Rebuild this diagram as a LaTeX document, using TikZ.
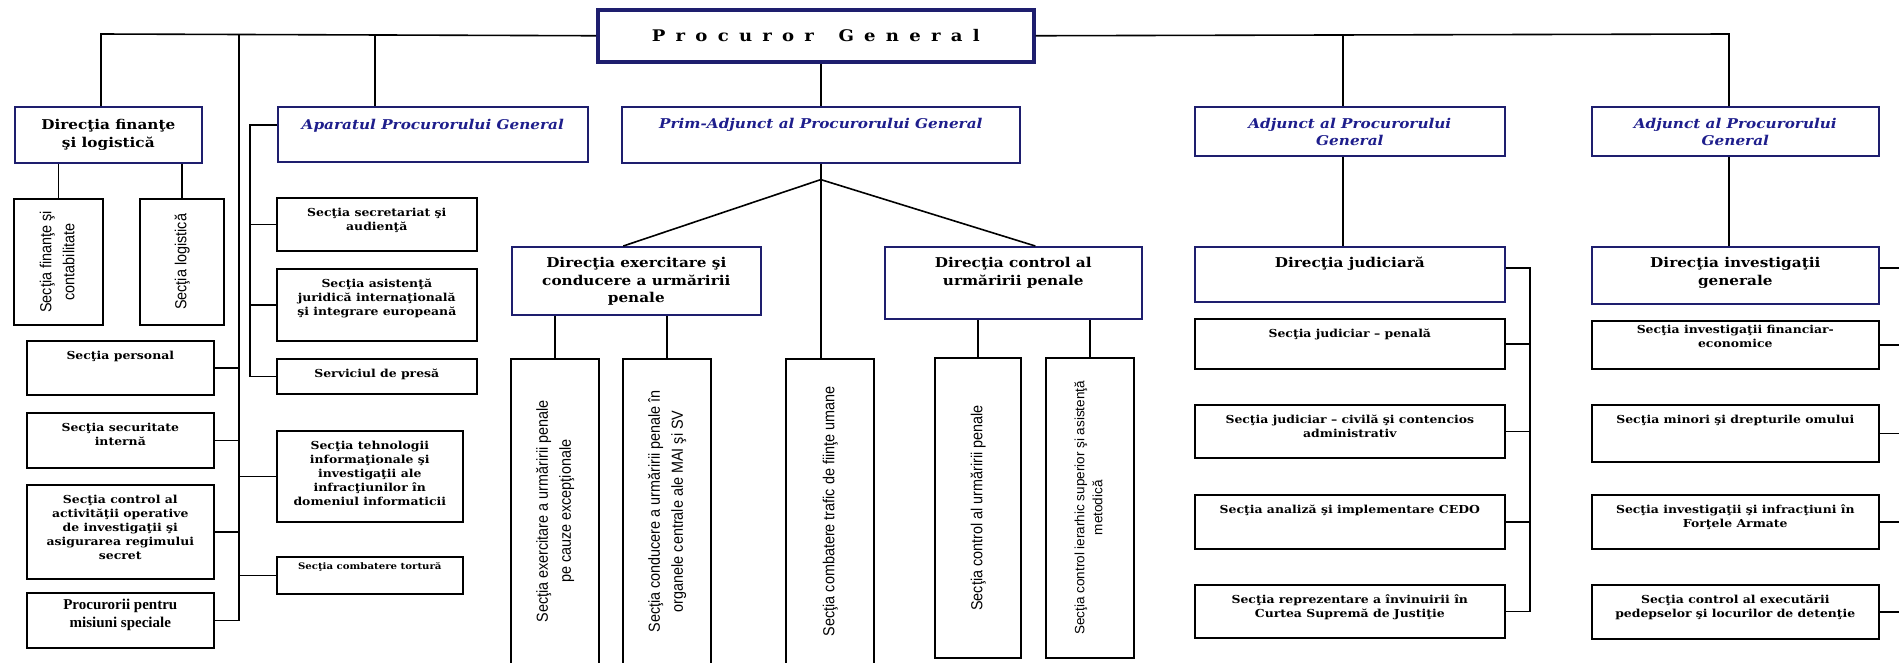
\documentclass[tikz,border=0pt]{standalone}
\usepackage{fontspec}
\usepackage{graphicx}
\setmainfont{DejaVu Serif}[FakeStretch=1.13]
\newfontfamily\narrowsans{Liberation Sans}[FakeStretch=0.9]
\newfontfamily\plainsans{Liberation Sans}
\newfontfamily\timesfont{Liberation Serif}
\usetikzlibrary{positioning, calc}

\definecolor{navy}{RGB}{30,30,110}
\definecolor{hdblue}{RGB}{30,30,140}

\tikzstyle{conn} = [line width=1.6pt, black]
\tikzstyle{hdbox} = [draw=navy, line width=1.6pt, inner sep=0pt, anchor=north west, text=hdblue, font=\fontsize{13.5}{17}\selectfont\bfseries\itshape]
\tikzstyle{dirbox} = [draw=navy, line width=1.6pt, inner sep=0pt, anchor=north west, font=\fontsize{13.5}{17.5}\selectfont\bfseries]
\tikzstyle{secbox} = [draw=black, line width=1.6pt, inner sep=0pt, anchor=north west, font=\fontsize{11}{14}\selectfont\bfseries]
\tikzstyle{vertbox} = [draw=black, line width=1.6pt, inner sep=0pt, anchor=north west, font=\fontsize{16}{23}\selectfont\narrowsans]

% text sitting at the top of a box: [first baseline]{width}{height}{text}
\newcommand{\topbox}[4][19pt]{\parbox[c][#3pt][t]{#2pt}{\centering\rule{0pt}{#1}#4}}
% text turned to read upwards
\newcommand{\sidetext}[1]{\rotatebox{90}{\begin{tabular}{@{}c@{}}#1\end{tabular}}}

\begin{document}
\begin{tikzpicture}[x=1pt, y=-1pt]
\useasboundingbox (0,0) rectangle (1899,662);

  % top
  \node[draw=navy, line width=3.5pt, minimum width=436pt, minimum height=52pt, inner sep=0pt, anchor=north west,
        font=\fontsize{16}{20}\selectfont\bfseries] (pg) at (596,8)
        {\addfontfeature{LetterSpace=64}Procuror\hspace{8pt} General};

  % second row
  \node[dirbox] (dirfin) at (14,106) {\topbox[23pt]{187}{56}{Direcţia finanţe\\şi logistică}};
  \node[hdbox] (aparat) at (277,106) {\topbox[23pt]{310}{55}{Aparatul Procurorului General}};
  \node[hdbox] (primadj) at (621,106) {\topbox[22pt]{398}{56}{Prim-Adjunct al Procurorului General}};
  \node[hdbox] (adj1) at (1194,106) {\topbox[22pt]{310}{49}{Adjunct al Procurorului\\General}};
  \node[hdbox] (adj2) at (1591,106) {\topbox[22pt]{287}{49}{Adjunct al Procurorului\\General}};

  % left column
  \node[vertbox, minimum width=89pt, minimum height=126pt] (finsec) at (13,198) {\sidetext{Secţia finanţe şi\\contabilitate}};
  \node[vertbox, minimum width=84pt, minimum height=126pt] (logsec) at (139,198) {\sidetext{Secţia logistică}};
  \node[secbox] (pers) at (26,340) {\topbox{187}{54}{Secţia personal}};
  \node[secbox] (secint) at (26,412) {\topbox{187}{55}{Secţia securitate\\internă}};
  \node[secbox] (ctrlop) at (26,484) {\topbox{187}{94}{Secţia control al\\activităţii operative\\de investigaţii şi\\asigurarea regimului\\secret}};
  \node[secbox, font=\fontsize{15}{18}\selectfont\timesfont\bfseries] (misiuni) at (26,592) {\topbox[17pt]{187}{55}{Procurorii pentru\\misiuni speciale}};

  % under the Aparatul
  \node[secbox] (secret) at (276,197) {\topbox{200}{53}{Secţia secretariat şi\\audienţă}};
  \node[secbox] (asist) at (276,268) {\topbox{200}{72}{Secţia asistenţă\\juridică internaţională\\şi integrare europeană}};
  \node[secbox] (presa) at (276,358) {\topbox{200}{35}{Serviciul de presă}};
  \node[secbox] (tehinf) at (276,430) {\topbox{186}{91}{Secţia tehnologii\\informaţionale şi\\investigaţii ale\\infracţiunilor în\\domeniul informaticii}};
  \node[secbox, font=\fontsize{9}{12}\selectfont\bfseries] (tortura) at (276,556) {\topbox[13pt]{186}{37}{Secţia combatere tortură}};

  % under the Prim-Adjunct
  \node[dirbox] (exdir) at (511,246) {\topbox[21pt]{249}{68}{Direcţia exercitare şi\\conducere a urmăririi\\penale}};
  \node[dirbox] (ctdir) at (884,246) {\topbox[21pt]{257}{72}{Direcţia control al\\urmăririi penale}};
  \node[vertbox, minimum width=88pt, minimum height=305pt] (v1) at (510,358) {\sidetext{Secţia exercitare a urmăririi penale\\pe cauze excepţionale}};
  \node[vertbox, minimum width=88pt, minimum height=305pt] (v2) at (622,358) {\sidetext{Secţia conducere a urmăririi penale în\\organele centrale ale MAI şi SV}};
  \node[vertbox, minimum width=88pt, minimum height=305pt] (v3) at (785,358) {\sidetext{Secţia combatere trafic de fiinţe umane}};
  \node[vertbox, minimum width=86pt, minimum height=300pt] (v4) at (934,357) {\sidetext{Secţia control al urmăririi penale}};
  \node[vertbox, minimum width=88pt, minimum height=300pt, font=\fontsize{13.5}{18}\selectfont\plainsans] (v5) at (1045,357) {\sidetext{Secţia control ierarhic superior şi asistenţă\\metodică}};

  % under the two Adjunct
  \node[dirbox] (jud) at (1194,246) {\topbox[21pt]{310}{55}{Direcţia judiciară}};
  \node[dirbox] (inv) at (1591,246) {\topbox[21pt]{287}{57}{Direcţia investigaţii\\generale}};
  \node[secbox] (jpen) at (1194,318) {\topbox{310}{50}{Secţia judiciar – penală}};
  \node[secbox] (jciv) at (1194,404) {\topbox{310}{53}{Secţia judiciar – civilă şi contencios\\administrativ}};
  \node[secbox] (cedo) at (1194,494) {\topbox{310}{54}{Secţia analiză şi implementare CEDO}};
  \node[secbox] (csj) at (1194,584) {\topbox{310}{53}{Secţia reprezentare a învinuirii în\\Curtea Supremă de Justiţie}};
  \node[secbox] (finec) at (1591,320) {\topbox[13pt]{287}{48}{Secţia investigaţii financiar-\\economice}};
  \node[secbox] (minori) at (1591,404) {\topbox{287}{57}{Secţia minori şi drepturile omului}};
  \node[secbox] (armate) at (1591,494) {\topbox{287}{54}{Secţia investigaţii şi infracţiuni în\\Forţele Armate}};
  \node[secbox] (detent) at (1591,584) {\topbox{287}{54}{Secţia control al executării\\pedepselor şi locurilor de detenţie}};

  % lines from the top
  \coordinate (jfin) at (101,34);
  \coordinate (jtrunk) at (239,34);
  \coordinate (japar) at (375,34);
  \coordinate (jadj1) at (1343,34);
  \coordinate (jadj2) at (1729,34);
  \draw[conn] (pg.west) -- (jfin) -- (jfin |- dirfin.north);
  \draw[conn] (japar) -- (japar |- aparat.north);
  \draw[conn] (pg.east) -- (jadj2) -- (jadj2 |- adj2.north);
  \draw[conn] (jadj1) -- (jadj1 |- adj1.north);
  \draw[conn] (primadj.north |- pg.south) -- (primadj.north);

  % left trunk
  \draw[conn] (jtrunk) |- (misiuni.east);
  \foreach \n in {pers, secint, ctrlop} \draw[conn] (\n.east) -- (\n.east -| jtrunk);
  \foreach \n in {tehinf, tortura} \draw[conn] (\n.west) -- (\n.west -| jtrunk);
  \foreach \n in {finsec, logsec} \draw[conn] (\n.north) -- (\n.north |- dirfin.south);

  % Aparatul
  \coordinate (japv) at (250,125);
  \draw[conn] (aparat.west |- japv) -- (japv) |- (presa.west);
  \foreach \n in {secret, asist} \draw[conn] (\n.west) -- (\n.west -| japv);

  % Prim-Adjunct
  \coordinate (jprim) at ($(primadj.south)+(0,16)$);
  \draw[conn] (primadj.south) -- (primadj.south |- v3.north);
  \draw[conn] (jprim) -- ([xshift=-13pt]exdir.north);
  \draw[conn] (jprim) -- ([xshift=22pt]ctdir.north);
  \foreach \n in {v1, v2} \draw[conn] (\n.north) -- (\n.north |- exdir.south);
  \foreach \n in {v4, v5} \draw[conn] (\n.north) -- (\n.north |- ctdir.south);

  % Adjunct
  \draw[conn] (adj1.south -| jadj1) -- (jud.north -| jadj1);
  \draw[conn] (adj2.south -| jadj2) -- (inv.north -| jadj2);
  \coordinate (jjud) at (1530,268);
  \draw[conn] (jud.east |- jjud) -- (jjud) |- (csj.east);
  \foreach \n in {jpen, jciv, cedo} \draw[conn] (\n.east) -- (\n.east -| jjud);
  \coordinate (jinv) at (1899,268);
  \draw[conn] (inv.east |- jinv) -- (jinv);
  \foreach \n in {finec, minori, armate, detent} \draw[conn] (\n.east) -- (\n.east -| jinv);

\end{tikzpicture}
\end{document}
